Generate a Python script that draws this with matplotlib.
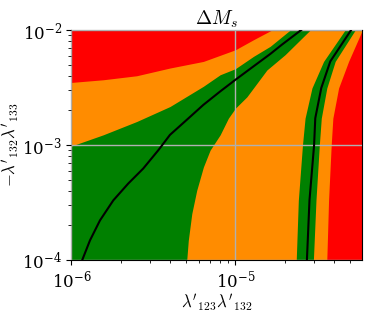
import numpy as np
import matplotlib
matplotlib.use("Agg")
import matplotlib.pyplot as plt

plt.rcParams['mathtext.fontset'] = 'cm'
plt.rcParams['font.family'] = ['DejaVu Serif']

XMIN, XMAX = 1e-6, 5.92e-5
YMIN, YMAX = 1e-4, 1e-2

# upper-left red boundary (red is left/above)
r1_x = [1e-6, 1.56e-6, 2.50e-6, 3.99e-6, 6.38e-6, 1.0e-5, 1.29e-5, 1.67e-5]
r1_y = [3.50e-3, 3.69e-3, 4.00e-3, 4.67e-3, 5.33e-3, 6.73e-3, 8.23e-3, 1e-2]

# upper edge of the left green band
g1_x = [1e-6, 1.56e-6, 2.50e-6, 3.99e-6, 6.38e-6, 8.07e-6, 1.0e-5, 1.29e-5, 1.63e-5, 2.16e-5]
g1_y = [0.98e-3, 1.225e-3, 1.60e-3, 2.16e-3, 3.24e-3, 4.08e-3, 4.61e-3, 5.90e-3, 7.21e-3, 1e-2]

# lower/right edge of the left green band
g2_x = [5.05e-6, 5.16e-6, 5.42e-6, 5.81e-6, 6.38e-6, 7.01e-6, 8.07e-6, 9.06e-6,
        1.0e-5, 1.174e-5, 1.556e-5, 2.01e-5, 2.86e-5]
g2_y = [1e-4, 1.48e-4, 2.53e-4, 4.04e-4, 6.44e-4, 9.02e-4, 1.225e-3, 1.71e-3,
        2.09e-3, 2.62e-3, 4.49e-3, 6.10e-3, 1e-2]

# central line of left band
l1_x = [1.164e-6, 1.297e-6, 1.493e-6, 1.80e-6, 2.22e-6, 2.74e-6, 3.39e-6, 3.99e-6,
        5.05e-6, 6.38e-6, 8.07e-6, 1.0e-5, 1.29e-5, 1.63e-5, 1.92e-5, 2.52e-5]
l1_y = [1e-4, 1.48e-4, 2.21e-4, 3.30e-4, 4.62e-4, 6.24e-4, 9.02e-4, 1.225e-3,
        1.655e-3, 2.235e-3, 2.92e-3, 3.69e-3, 4.83e-3, 6.18e-3, 7.45e-3, 1e-2]

# right band
rb_y = [1e-4, 3.30e-4, 1.0e-3, 1.71e-3, 3.13e-3, 5.33e-3, 1e-2]
g3_x = [2.35e-5, 2.42e-5, 2.565e-5, 2.66e-5, 2.93e-5, 3.45e-5, 4.67e-5]
l2_x = [2.73e-5, 2.83e-5, 3.02e-5, 3.07e-5, 3.34e-5, 3.79e-5, 5.08e-5]
g4_x = [2.99e-5, 3.10e-5, 3.25e-5, 3.34e-5, 3.61e-5, 4.06e-5, 5.38e-5]
r2_x = [3.61e-5, 3.70e-5, 3.84e-5, 3.93e-5, 4.26e-5, 4.90e-5, 5.95e-5]

RED, ORANGE, GREEN = '#ff0000', '#ff8c00', '#008000'

fig = plt.figure(figsize=(3.74, 3.15), dpi=100)
ax = fig.add_axes([0.191, 0.1746, 0.777, 0.7302])
ax.set_xscale('log')
ax.set_yscale('log')
ax.set_facecolor(ORANGE)

ax.fill_betweenx(g2_y, XMIN, g2_x, color=GREEN, lw=0, zorder=1)
ax.fill_betweenx(g1_y, XMIN, g1_x, color=ORANGE, lw=0, zorder=1.1)
ax.fill_betweenx(r1_y, XMIN, r1_x, color=RED, lw=0, zorder=1.2)
ax.fill_betweenx(rb_y, g3_x, g4_x, color=GREEN, lw=0, zorder=1)
ax.fill_betweenx(rb_y, r2_x, XMAX * 1.05, color=RED, lw=0, zorder=1)

ax.plot(l1_x, l1_y, color='black', lw=1.5, zorder=3)
ax.plot(l2_x, rb_y, color='black', lw=1.5, zorder=3)

ax.grid(True, which='major', color='#b0b0b0', lw=1.0, zorder=2)
ax.set_axisbelow(False)

ax.set_xlim(XMIN, XMAX)
ax.set_ylim(YMIN, YMAX)
ax.tick_params(labelsize=12)
ax.set_xlabel(r"$\lambda'_{123}\lambda'_{132}$", fontsize=12, labelpad=1)
ax.set_ylabel(r"$-\lambda'_{132}\lambda'_{133}$", fontsize=12, labelpad=0)
ax.set_title(r"$\Delta M_s$", fontsize=14, pad=4)

fig.savefig('out.png', dpi=100)
